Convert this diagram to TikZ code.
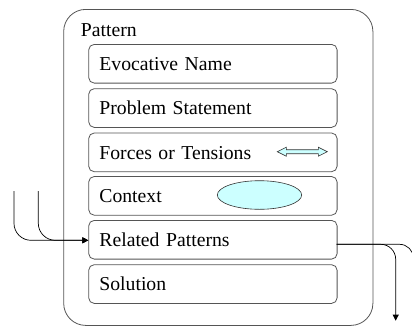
\documentclass[tikz,border=0pt]{standalone}
\usepackage{fontspec}
\setmainfont{Liberation Serif}
\usetikzlibrary{arrows.meta}
\definecolor{lightcyan}{HTML}{CCFFFF}
\definecolor{boxgray}{HTML}{555555}
\tikzset{
  partbox/.style={draw=boxgray, line width=0.8pt, rounded corners=5.5pt,
    anchor=north west, minimum width=248.4pt, minimum height=38.7pt,
    text width=227pt, align=left, inner xsep=10.7pt, inner ysep=0pt,
    text height=13.5pt, text depth=0pt, font=\fontsize{19.7}{23}\selectfont},
  outerbox/.style={draw=boxgray, line width=0.8pt, rounded corners=22pt,
    anchor=north west, minimum width=309.2pt, minimum height=316pt, inner sep=0pt},
  conn/.style={draw=black, line width=0.7pt},
  tip/.style={-{Triangle[length=6pt,width=6pt]}},
  shapefill/.style={fill=lightcyan, draw=black!80, line width=0.6pt}
}
\begin{document}
\begin{tikzpicture}[x=1pt,y=-1pt]
\useasboundingbox (0,0) rectangle (412,327);
\clip (0,0) rectangle (412,327);
\node[outerbox] (outer) at (63.3,9) {};
\node[anchor=base west, inner sep=0pt, font=\fontsize{19.7}{23}\selectfont] (ptitle) at (80.7,36) {Pattern};
\node[partbox] (evo) at (88.3,44) {Evocative Name};
\node[partbox] (prob) at (88.3,88.3) {Problem Statement};
\node[partbox] (forces) at (88.3,132.6) {Forces or Tensions};
\node[partbox] (ctx) at (88.3,176.1) {Context};
\node[partbox] (rel) at (88.3,220) {Related Patterns};
\node[partbox] (sol) at (88.3,264.3) {Solution};
% double arrow in Forces
\path[shapefill] (277.3,151.7) -- (286.3,147.2) -- (286.3,149.7) -- (318.3,149.7) -- (318.3,147.2) -- (327.3,151.7) -- (318.3,156.2) -- (318.3,153.7) -- (286.3,153.7) -- (286.3,156.2) -- cycle;
% ellipse in Context
\draw[shapefill] (259.5,195) ellipse [x radius=42.2pt, y radius=14.3pt];
% connectors
\coordinate (in1) at (14,191);
\coordinate (in2) at (38.3,191);
\coordinate (relin) at (88.3,240.3);
\coordinate (relout) at (336.7,244.3);
\coordinate (out1) at (395.7,320.7);
\coordinate (out2) at (413.5,330);
\draw[conn, tip, rounded corners=17pt] (in1) |- (relin);
\draw[conn, tip, rounded corners=17pt] (in2) |- (relin);
\draw[conn, tip, rounded corners=15pt] (relout) -| (out1);
\draw[conn, rounded corners=14pt] (relout) -| (out2);
\end{tikzpicture}
\end{document}
